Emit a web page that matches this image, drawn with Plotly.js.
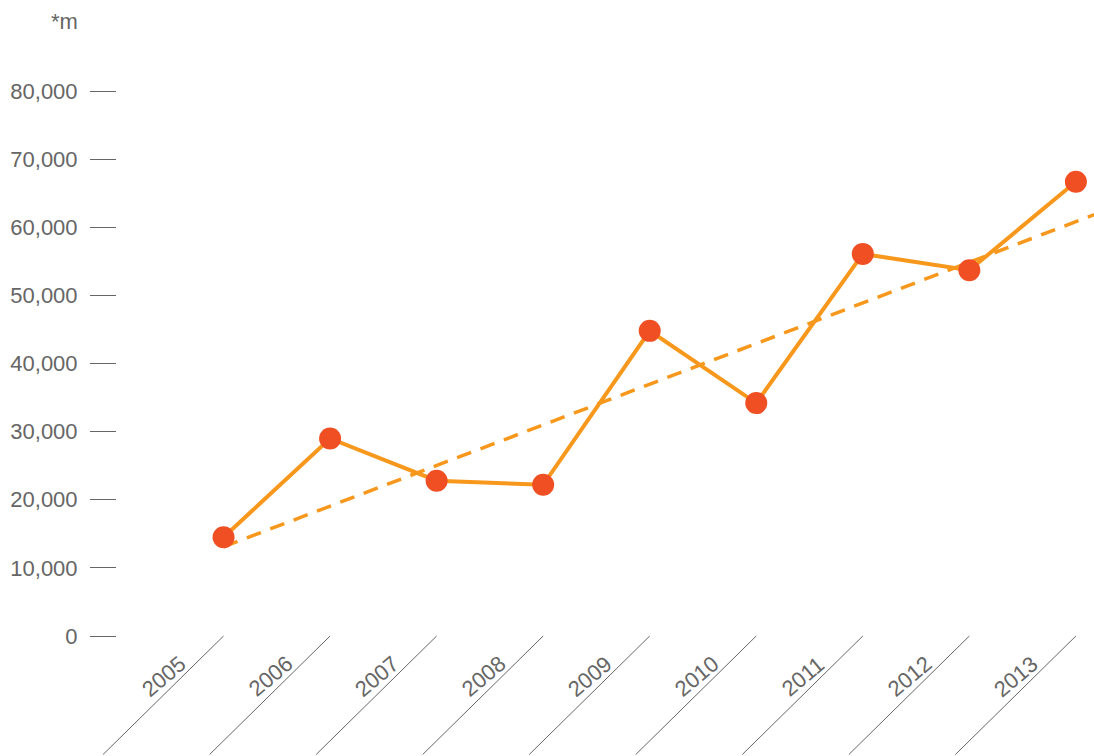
<!DOCTYPE html>
<html>
<head>
<meta charset="utf-8">
<script src="https://cdn.plot.ly/plotly-3.0.1.min.js"></script>
<style>html,body{margin:0;padding:0;background:#fff;}#chart{width:1094px;height:756px;}</style>
</head>
<body>
<div id="chart"></div>
<script>
var years = [2005, 2006, 2007, 2008, 2009, 2010, 2011, 2012, 2013];
var values = [14500, 29000, 22800, 22200, 44800, 34200, 56100, 53700, 66700];
var trendYears = [2005, 2014];
var trendValues = [13100, 66800];
var yTickVals = [0, 10000, 20000, 30000, 40000, 50000, 60000, 70000, 80000];
var unitLabel = '*m';

var FONT = 'Liberation Sans, Arial, sans-serif';
var GREY = '#666666';

var traces = [
  {
    x: trendYears, y: trendValues, type: 'scatter', mode: 'lines',
    line: {color: '#F7981D', width: 3.5, dash: '15px,10px'},
    hoverinfo: 'skip'
  },
  {
    x: years, y: values, type: 'scatter', mode: 'lines+markers',
    line: {color: '#F7981D', width: 4},
    marker: {color: '#F04E23', size: 22},
    cliponaxis: false
  }
];

var annotations = [];
years.forEach(function (yr) {
  annotations.push({
    x: yr, y: 0, xref: 'x', yref: 'y', text: '', showarrow: true,
    arrowhead: 0, arrowwidth: 1, arrowcolor: GREY, ax: -122, ay: 125,
    standoff: 0, startstandoff: 0
  });
  annotations.push({
    x: yr, y: 0, xref: 'x', yref: 'y', text: String(yr), showarrow: false,
    textangle: -40, xshift: -60, yshift: -40,
    font: {family: FONT, size: 22, color: GREY}
  });
});
annotations.push({
  x: 0, y: 1, xref: 'paper', yref: 'paper', text: unitLabel, showarrow: false,
  xanchor: 'right', yanchor: 'middle', xshift: -37, yshift: 2,
  font: {family: FONT, size: 22, color: GREY}
});

var layout = {
  width: 1094, height: 756,
  margin: {l: 117, r: 0, t: 23, b: 120, pad: 0},
  paper_bgcolor: '#fff', plot_bgcolor: '#fff',
  showlegend: false,
  font: {family: FONT, size: 22, color: GREY},
  xaxis: {
    range: [2004, 2013.17], showgrid: false, zeroline: false, showline: false,
    showticklabels: false, ticks: '', fixedrange: true
  },
  yaxis: {
    range: [0, 90000], showgrid: false, zeroline: false, showline: false,
    tickvals: yTickVals, tickformat: ',d', ticks: 'outside', ticklen: 26,
    tickwidth: 1, tickcolor: GREY, ticklabelstandoff: 8,
    tickfont: {family: FONT, size: 22, color: GREY}
  },
  annotations: annotations
};

Plotly.newPlot('chart', traces, layout, {displayModeBar: false, staticPlot: true});
</script>
</body>
</html>
